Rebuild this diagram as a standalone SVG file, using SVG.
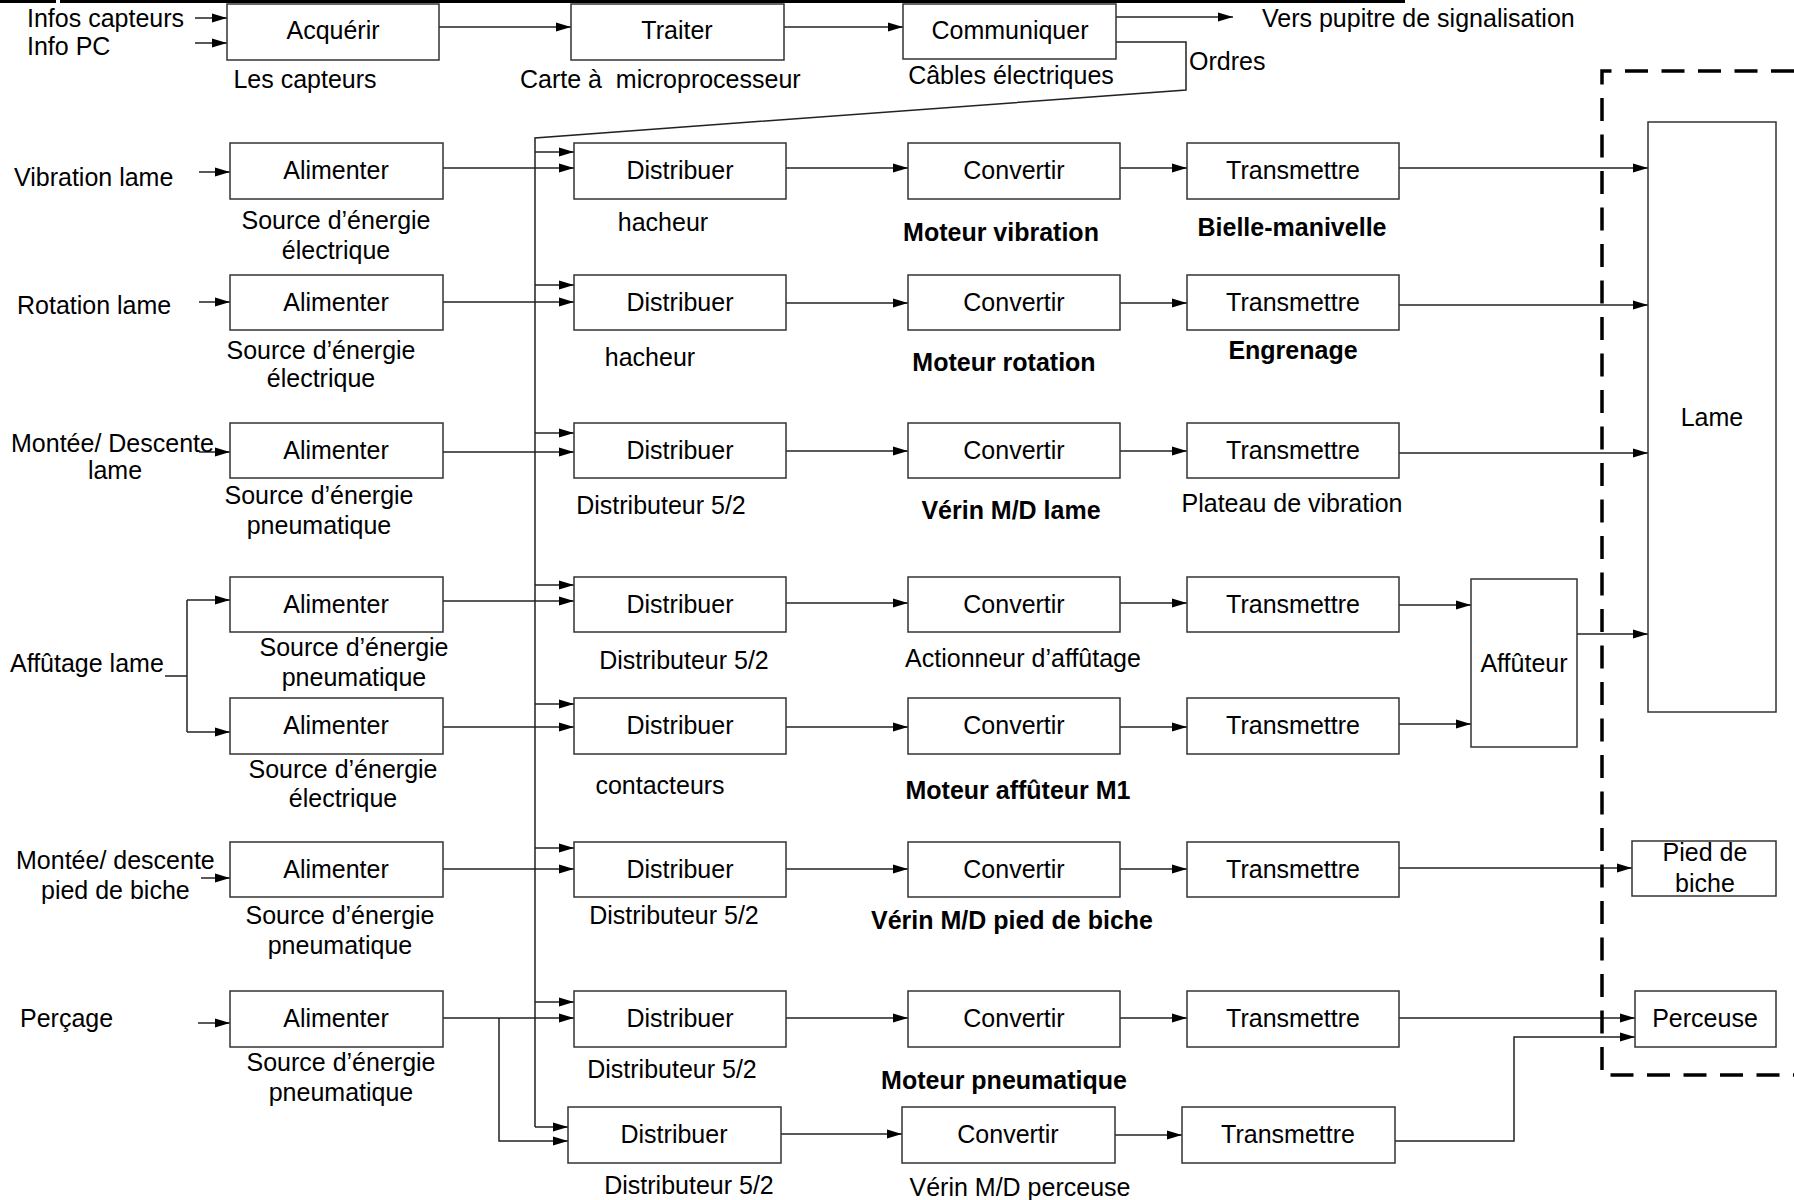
<svg xmlns="http://www.w3.org/2000/svg" width="1794" height="1200" viewBox="0 0 1794 1200">
<defs>
<marker id="ah" markerWidth="15" markerHeight="10" refX="15" refY="5" orient="auto" markerUnits="userSpaceOnUse"><path d="M0,0.5 L15,5 L0,9.5 z" fill="#000"/></marker>
<style>
.box{fill:#fff;stroke:#333;stroke-width:1.5}
text{font-family:"Liberation Sans",Arial,sans-serif;font-size:25px;fill:#000}
.c{text-anchor:middle}
.b{font-weight:bold}
.ln{fill:none;stroke:#222;stroke-width:1.5}
.ar{fill:none;stroke:#222;stroke-width:1.5;marker-end:url(#ah)}
.dash{fill:none;stroke:#000;stroke-width:3.5;stroke-dasharray:23 13.5}
</style>
</defs>
<rect width="1794" height="1200" fill="#fff"/>
<path d="M0,1.5 H56 M60,1.5 H1405" stroke="#000" stroke-width="3" fill="none"/>

<g id="connectors">
<path class="ar" d="M195,18 H227"/>
<path class="ar" d="M195,43 H227"/>
<path class="ar" d="M439,27 H571"/>
<path class="ar" d="M784,27 H903"/>
<path class="ar" d="M1116,17 H1233"/>
<path class="ln" d="M1116,42 H1186 V90 L535,138 V1127"/>

<path class="ar" d="M199,172 H230"/>
<path class="ar" d="M199,302 H230"/>
<path class="ar" d="M199,452 H230"/>
<path class="ln" d="M165,676 H187 M187,600 V732"/>
<path class="ar" d="M187,600 H230"/>
<path class="ar" d="M187,732 H230"/>
<path class="ar" d="M201,878 H230"/>
<path class="ar" d="M198,1023 H230"/>

<path class="ar" d="M443,168 H574"/>
<path class="ar" d="M443,302 H574"/>
<path class="ar" d="M443,452 H574"/>
<path class="ar" d="M443,601 H574"/>
<path class="ar" d="M443,727 H574"/>
<path class="ar" d="M443,869 H574"/>
<path class="ar" d="M443,1018 H574"/>
<path class="ar" d="M499,1018 V1141 H568"/>

<path class="ar" d="M535,152 H574"/>
<path class="ar" d="M535,285 H574"/>
<path class="ar" d="M535,433 H574"/>
<path class="ar" d="M535,585 H574"/>
<path class="ar" d="M535,704 H574"/>
<path class="ar" d="M535,848 H574"/>
<path class="ar" d="M535,1002 H574"/>
<path class="ar" d="M535,1127 H568"/>

<path class="ar" d="M786,168 H908"/>
<path class="ar" d="M786,303 H908"/>
<path class="ar" d="M786,451 H908"/>
<path class="ar" d="M786,603 H908"/>
<path class="ar" d="M786,727 H908"/>
<path class="ar" d="M786,869 H908"/>
<path class="ar" d="M786,1018 H908"/>
<path class="ar" d="M781,1134 H902"/>

<path class="ar" d="M1120,168 H1187"/>
<path class="ar" d="M1120,303 H1187"/>
<path class="ar" d="M1120,451 H1187"/>
<path class="ar" d="M1120,603 H1187"/>
<path class="ar" d="M1120,727 H1187"/>
<path class="ar" d="M1120,869 H1187"/>
<path class="ar" d="M1120,1018 H1187"/>
<path class="ar" d="M1115,1135 H1182"/>

<path class="ar" d="M1399,168 H1648"/>
<path class="ar" d="M1399,305 H1648"/>
<path class="ar" d="M1399,453 H1648"/>
<path class="ar" d="M1399,605 H1471"/>
<path class="ar" d="M1399,724 H1471"/>
<path class="ar" d="M1577,634 H1648"/>
<path class="ar" d="M1399,868 H1632"/>
<path class="ar" d="M1399,1018 H1635"/>
<path class="ar" d="M1395,1141 H1514 V1037 H1635"/>
</g>

<path class="dash" d="M1794,71 H1602 V1075 H1794"/>

<text x="27" y="27">Infos capteurs</text>
<text x="27" y="55">Info PC</text>
<text x="1262" y="27">Vers pupitre de signalisation</text>
<text x="1189" y="70">Ordres</text>

<g id="acquerir"><rect class="box" x="227" y="4" width="212" height="56"/><text class="c" x="333" y="39">Acquérir</text><text class="c" x="305" y="88">Les capteurs</text></g>
<g id="traiter"><rect class="box" x="571" y="4" width="213" height="56"/><text class="c" x="677" y="39">Traiter</text><text x="520" y="88" style="white-space:pre">Carte à  microprocesseur</text></g>
<g id="communiquer"><rect class="box" x="903" y="4" width="213" height="55"/><text class="c" x="1010" y="39">Communiquer</text><text class="c" x="1011" y="84">Câbles électriques</text></g>

<g id="in-vibration"><text x="14" y="186">Vibration lame</text></g>
<g id="in-rotation"><text x="17" y="314">Rotation lame</text></g>
<g id="in-montee-lame"><text x="11" y="452">Montée/ Descente</text><text class="c" x="115" y="479">lame</text></g>
<g id="in-affutage"><text x="10" y="672">Affûtage lame</text></g>
<g id="in-pied"><text x="16" y="869">Montée/ descente</text><text x="41" y="899">pied de biche</text></g>
<g id="in-percage"><text x="20" y="1027">Perçage</text></g>

<g id="alim1"><rect class="box" x="230" y="143" width="213" height="56"/><text class="c" x="336" y="179">Alimenter</text><text class="c" x="336" y="229">Source d’énergie</text><text class="c" x="336" y="259">électrique</text></g>
<g id="alim2"><rect class="box" x="230" y="275" width="213" height="55"/><text class="c" x="336" y="311">Alimenter</text><text class="c" x="321" y="359">Source d’énergie</text><text class="c" x="321" y="387">électrique</text></g>
<g id="alim3"><rect class="box" x="230" y="423" width="213" height="55"/><text class="c" x="336" y="459">Alimenter</text><text class="c" x="319" y="504">Source d’énergie</text><text class="c" x="319" y="534">pneumatique</text></g>
<g id="alim4"><rect class="box" x="230" y="577" width="213" height="55"/><text class="c" x="336" y="613">Alimenter</text><text class="c" x="354" y="656">Source d’énergie</text><text class="c" x="354" y="686">pneumatique</text></g>
<g id="alim5"><rect class="box" x="230" y="698" width="213" height="56"/><text class="c" x="336" y="734">Alimenter</text><text class="c" x="343" y="778">Source d’énergie</text><text class="c" x="343" y="807">électrique</text></g>
<g id="alim6"><rect class="box" x="230" y="842" width="213" height="55"/><text class="c" x="336" y="878">Alimenter</text><text class="c" x="340" y="924">Source d’énergie</text><text class="c" x="340" y="954">pneumatique</text></g>
<g id="alim7"><rect class="box" x="230" y="991" width="213" height="56"/><text class="c" x="336" y="1027">Alimenter</text><text class="c" x="341" y="1071">Source d’énergie</text><text class="c" x="341" y="1101">pneumatique</text></g>

<g id="dist1"><rect class="box" x="574" y="143" width="212" height="56"/><text class="c" x="680" y="179">Distribuer</text><text class="c" x="663" y="231">hacheur</text></g>
<g id="dist2"><rect class="box" x="574" y="275" width="212" height="55"/><text class="c" x="680" y="311">Distribuer</text><text class="c" x="650" y="366">hacheur</text></g>
<g id="dist3"><rect class="box" x="574" y="423" width="212" height="55"/><text class="c" x="680" y="459">Distribuer</text><text class="c" x="661" y="514">Distributeur 5/2</text></g>
<g id="dist4"><rect class="box" x="574" y="577" width="212" height="55"/><text class="c" x="680" y="613">Distribuer</text><text class="c" x="684" y="669">Distributeur 5/2</text></g>
<g id="dist5"><rect class="box" x="574" y="698" width="212" height="56"/><text class="c" x="680" y="734">Distribuer</text><text class="c" x="660" y="794">contacteurs</text></g>
<g id="dist6"><rect class="box" x="574" y="842" width="212" height="55"/><text class="c" x="680" y="878">Distribuer</text><text class="c" x="674" y="924">Distributeur 5/2</text></g>
<g id="dist7"><rect class="box" x="574" y="991" width="212" height="56"/><text class="c" x="680" y="1027">Distribuer</text><text class="c" x="672" y="1078">Distributeur 5/2</text></g>
<g id="dist8"><rect class="box" x="568" y="1107" width="213" height="56"/><text class="c" x="674" y="1143">Distribuer</text><text class="c" x="689" y="1194">Distributeur 5/2</text></g>

<g id="conv1"><rect class="box" x="908" y="143" width="212" height="56"/><text class="c" x="1014" y="179">Convertir</text><text class="c b" x="1001" y="241">Moteur vibration</text></g>
<g id="conv2"><rect class="box" x="908" y="275" width="212" height="55"/><text class="c" x="1014" y="311">Convertir</text><text class="c b" x="1004" y="371">Moteur rotation</text></g>
<g id="conv3"><rect class="box" x="908" y="423" width="212" height="55"/><text class="c" x="1014" y="459">Convertir</text><text class="c b" x="1011" y="519">Vérin M/D lame</text></g>
<g id="conv4"><rect class="box" x="908" y="577" width="212" height="55"/><text class="c" x="1014" y="613">Convertir</text><text class="c" x="1023" y="667">Actionneur d’affûtage</text></g>
<g id="conv5"><rect class="box" x="908" y="698" width="212" height="56"/><text class="c" x="1014" y="734">Convertir</text><text class="c b" x="1018" y="799">Moteur affûteur M1</text></g>
<g id="conv6"><rect class="box" x="908" y="842" width="212" height="55"/><text class="c" x="1014" y="878">Convertir</text><text class="c b" x="1012" y="929">Vérin M/D pied de biche</text></g>
<g id="conv7"><rect class="box" x="908" y="991" width="212" height="56"/><text class="c" x="1014" y="1027">Convertir</text><text class="c b" x="1004" y="1089">Moteur pneumatique</text></g>
<g id="conv8"><rect class="box" x="902" y="1107" width="213" height="56"/><text class="c" x="1008" y="1143">Convertir</text><text class="c" x="1020" y="1196">Vérin M/D perceuse</text></g>

<g id="trans1"><rect class="box" x="1187" y="143" width="212" height="56"/><text class="c" x="1293" y="179">Transmettre</text><text class="c b" x="1292" y="236">Bielle-manivelle</text></g>
<g id="trans2"><rect class="box" x="1187" y="275" width="212" height="55"/><text class="c" x="1293" y="311">Transmettre</text><text class="c b" x="1293" y="359">Engrenage</text></g>
<g id="trans3"><rect class="box" x="1187" y="423" width="212" height="55"/><text class="c" x="1293" y="459">Transmettre</text><text class="c" x="1292" y="512">Plateau de vibration</text></g>
<g id="trans4"><rect class="box" x="1187" y="577" width="212" height="55"/><text class="c" x="1293" y="613">Transmettre</text></g>
<g id="trans5"><rect class="box" x="1187" y="698" width="212" height="56"/><text class="c" x="1293" y="734">Transmettre</text></g>
<g id="trans6"><rect class="box" x="1187" y="842" width="212" height="55"/><text class="c" x="1293" y="878">Transmettre</text></g>
<g id="trans7"><rect class="box" x="1187" y="991" width="212" height="56"/><text class="c" x="1293" y="1027">Transmettre</text></g>
<g id="trans8"><rect class="box" x="1182" y="1107" width="213" height="56"/><text class="c" x="1288" y="1143">Transmettre</text></g>

<g id="affuteur"><rect class="box" x="1471" y="579" width="106" height="168"/><text class="c" x="1524" y="672">Affûteur</text></g>
<g id="lame"><rect class="box" x="1648" y="122" width="128" height="590"/><text class="c" x="1712" y="426">Lame</text></g>
<g id="pied"><rect class="box" x="1632" y="841" width="144" height="55"/><text class="c" x="1705" y="861">Pied de</text><text class="c" x="1705" y="892">biche</text></g>
<g id="perceuse"><rect class="box" x="1635" y="991" width="141" height="56"/><text class="c" x="1705" y="1027">Perceuse</text></g>
</svg>
